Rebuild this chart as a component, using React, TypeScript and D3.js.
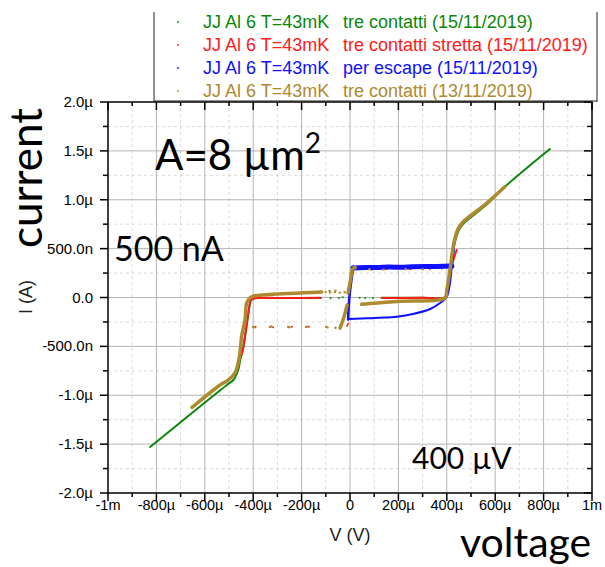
import React from "react";
import * as d3 from "d3";

// I–V curves of junction JJ Al 6 at T = 43 mK. Voltage in µV, current in nA.
type Pt = [number, number];

const xMajorTicks = [-1000, -800, -600, -400, -200, 0, 200, 400, 600, 800, 1000];
const xTickLabels = ["-1m", "-800µ", "-600µ", "-400µ", "-200µ", "0", "200µ", "400µ", "600µ", "800µ", "1m"];
const yMajorTicks = [-2000, -1500, -1000, -500, 0, 500, 1000, 1500, 2000];
const yTickLabels = ["-2.0µ", "-1.5µ", "-1.0µ", "-500.0n", "0.0", "500.0n", "1.0µ", "1.5µ", "2.0µ"];

const seriesNames = [
  ["JJ Al 6 T=43mK", "tre contatti (15/11/2019)"],
  ["JJ Al 6 T=43mK", "tre contatti stretta (15/11/2019)"],
  ["JJ Al 6 T=43mK", "per escape (15/11/2019)"],
  ["JJ Al 6 T=43mK", "tre contatti (13/11/2019)"],
];
const seriesColors = ["#0a870a", "#ff1a1a", "#1010ff", "#ad8a2e"];

// tre contatti (15/11/2019)
const greenNeg: Pt[] = [
  [-826, -1529], [-620, -1115], [-509, -895], [-482, -844], [-462, -742], [-452, -619],
  [-443, -537], [-434, -401], [-424, -230], [-416, -94], [-409, -26], [-393, -8],
  [-250, -6], [-120, -5],
];
const greenPos: Pt[] = [
  [130, -3], [300, -2], [393, 4], [402, 77], [411, 210], [422, 350], [428, 486],
  [436, 588], [450, 691], [470, 759], [560, 940], [640, 1133], [826, 1519],
];
const greenDots: Pt[] = [[-80, -8], [-45, -5], [-30, 2], [40, -3], [62, -6], [95, -4]];

// tre contatti stretta (15/11/2019)
const redNeg: Pt[] = [
  [-452, -619], [-443, -537], [-434, -401], [-424, -230], [-416, -94], [-411, -36],
  [-400, -8], [-388, -5], [-250, -5], [-124, -3],
];
const redPos: Pt[] = [
  [136, -6], [300, -3], [393, 2], [400, 59], [409, 179], [421, 332], [441, 486],
];
const redDots: Pt[] = [
  [-390, -300], [-318, -305], [-240, -298], [-170, -300], [-12, -290], [-8, -270],
  [90, 285], [150, 292], [250, 288], [330, 292], [380, 296],
];

// per escape (15/11/2019)
const blueRise: Pt[] = [[-8, -225], [-2, 20], [14, 315]];
const blueBand: Pt[] = [
  [12, 302], [60, 308], [110, 306], [160, 311], [210, 310], [260, 314], [310, 316],
  [360, 318], [421, 322],
];
const blueReturn: Pt[] = [
  [-8, -220], [41, -215], [124, -207], [193, -196], [260, -169], [331, -118],
  [372, -56], [400, 8], [413, 148], [421, 332], [430, 506],
];

// tre contatti (13/11/2019)
const brownNeg: Pt[] = [
  [-653, -1125], [-537, -895], [-503, -844], [-475, -772], [-457, -606], [-448, -401],
  [-434, -230], [-427, -59], [-417, -15], [-406, 8], [-388, 20], [-331, 31], [-117, 57],
];
const brownZeroLow: Pt[] = [[-41, -312], [-25, -200], [-12, -77]];
const brownZeroHigh: Pt[] = [[-8, 46], [2, 180], [12, 300], [22, 305]];
const brownPos: Pt[] = [
  [48, -70], [193, -41], [393, -2], [400, 77], [407, 179], [417, 353], [424, 486],
  [434, 609], [446, 701], [467, 772], [560, 955], [640, 1133],
];
const brownDots: Pt[] = [
  [-401, -300], [-395, -306], [-331, -302], [-325, -297], [-256, -300], [-250, -305],
  [-182, -302], [-176, -298], [-99, -300], [-93, -306], [-60, -310],
  [-100, 55], [-82, 52], [-62, 55], [-42, 50], [-22, 53], [-85, 68], [-60, 70],
  [80, 290], [140, 285], [230, 292], [300, 290],
];

const W = 605;
const H = 567;
const PL = 108, PR = 592, PT = 102, PB = 493;

export default function App() {
  const x = d3.scaleLinear().domain([-1000, 1000]).range([PL, PR]);
  const y = d3.scaleLinear().domain([-2000, 2000]).range([PB, PT]);
  const line = d3.line<Pt>().x((d) => x(d[0])).y((d) => y(d[1])).curve(d3.curveCatmullRom.alpha(0.5));

  const xMinor = d3.range(-900, 1000, 200);
  const yMinor = d3.range(-1750, 2000, 500);
  const font = "'Liberation Sans', Arial, sans-serif";
  const big = "Lato, 'Open Sans', sans-serif";

  const path = (d: Pt[], color: string, w: number) => (
    <path d={line(d) || ""} fill="none" stroke={color} strokeWidth={w}
      strokeLinejoin="round" strokeLinecap="round" />
  );
  const dots = (d: Pt[], color: string, r: number) =>
    d.map((p, i) => <circle key={i} cx={x(p[0])} cy={y(p[1])} r={r} fill={color} />);

  return (
    <svg width={W} height={H} style={{ position: "absolute", left: 0, top: 0, background: "#fff" }}>
      {/* grid */}
      {xMinor.map((v) => (
        <line key={"xm" + v} x1={x(v)} x2={x(v)} y1={PT} y2={PB} stroke="#d9d9d9" strokeDasharray="3,3" />
      ))}
      {yMinor.map((v) => (
        <line key={"ym" + v} x1={PL} x2={PR} y1={y(v)} y2={y(v)} stroke="#d9d9d9" strokeDasharray="3,3" />
      ))}
      {xMajorTicks.slice(1, -1).map((v) => (
        <line key={"xg" + v} x1={x(v)} x2={x(v)} y1={PT} y2={PB} stroke="#b4b4b4" />
      ))}
      {yMajorTicks.slice(1, -1).map((v) => (
        <line key={"yg" + v} x1={PL} x2={PR} y1={y(v)} y2={y(v)} stroke="#b4b4b4" />
      ))}

      {/* data */}
      {path(greenNeg, seriesColors[0], 2)}
      {path(greenPos, seriesColors[0], 2)}
      {dots(greenDots, seriesColors[0], 1)}
      {path(redNeg, seriesColors[1], 2)}
      {path(redPos, seriesColors[1], 2)}
      {dots(redDots, seriesColors[1], 1)}
      {path(blueRise, seriesColors[2], 2.5)}
      {path(blueBand, seriesColors[2], 5)}
      {path(blueReturn, seriesColors[2], 2)}
      {path(brownNeg, seriesColors[3], 3.5)}
      {path(brownZeroLow, seriesColors[3], 3.5)}
      {path(brownZeroHigh, seriesColors[3], 3.5)}
      {path(brownPos, seriesColors[3], 3.5)}
      {dots(brownDots, seriesColors[3], 1.2)}

      {/* frame */}
      <rect x={PL} y={PT} width={PR - PL} height={PB - PT} fill="none" stroke="#000" strokeWidth={1.5} />
      {xMajorTicks.map((v) => (
        <g key={"xt" + v}>
          <line x1={x(v)} x2={x(v)} y1={PB} y2={PB + 8} stroke="#000" strokeWidth={1.5} />
          <line x1={x(v)} x2={x(v)} y1={PT} y2={PT + 8} stroke="#000" strokeWidth={1.5} />
        </g>
      ))}
      {xMinor.map((v) => (
        <g key={"xn" + v}>
          <line x1={x(v)} x2={x(v)} y1={PB} y2={PB + 4} stroke="#000" strokeWidth={1.5} />
          <line x1={x(v)} x2={x(v)} y1={PT} y2={PT + 4} stroke="#000" strokeWidth={1.5} />
        </g>
      ))}
      {yMajorTicks.map((v) => (
        <g key={"yt" + v}>
          <line x1={PL - 8} x2={PL} y1={y(v)} y2={y(v)} stroke="#000" strokeWidth={1.5} />
          <line x1={PR - 8} x2={PR} y1={y(v)} y2={y(v)} stroke="#000" strokeWidth={1.5} />
        </g>
      ))}
      {yMinor.map((v) => (
        <g key={"yn" + v}>
          <line x1={PL - 5} x2={PL} y1={y(v)} y2={y(v)} stroke="#000" strokeWidth={1.5} />
          <line x1={PR - 5} x2={PR} y1={y(v)} y2={y(v)} stroke="#000" strokeWidth={1.5} />
        </g>
      ))}

      {/* tick labels */}
      {xMajorTicks.map((v, i) => (
        <text key={"xl" + v} x={x(v)} y={510} textAnchor="middle" fontFamily={font} fontSize={14.5} fill="#000">
          {xTickLabels[i]}
        </text>
      ))}
      {yMajorTicks.map((v, i) => (
        <text key={"yl" + v} x={93} y={y(v) + 5} textAnchor="end" fontFamily={font} fontSize={15} fill="#000">
          {yTickLabels[i]}
        </text>
      ))}

      {/* axis titles */}
      <text x={350} y={541} textAnchor="middle" fontFamily={font} fontSize={18} fill="#222">V (V)</text>
      <text transform="translate(32,297) rotate(-90)" textAnchor="middle" fontFamily={font} fontSize={18} fill="#222">I (A)</text>

      {/* legend */}
      <path d={`M154,12 V${PT} M597,12 V${PT} M154,${PT - 1} H597`} fill="none" stroke="#222" strokeWidth={1} />
      {seriesNames.map((n, i) => (
        <g key={"lg" + i}>
          <circle cx={178} cy={22 + i * 23} r={0.9} fill={seriesColors[i]} />
          <text x={203} y={28 + i * 23} fontFamily={font} fontSize={18} fill={seriesColors[i]}>{n[0]}</text>
          <text x={343} y={28 + i * 23} fontFamily={font} fontSize={18} fill={seriesColors[i]}>{n[1]}</text>
        </g>
      ))}

      {/* annotations */}
      <text x={155} y={170} fontFamily={big} fontSize={42} fill="#000">
        A=8 µm<tspan dy={-17} fontSize={28}>2</tspan>
      </text>
      <text x={114} y={261} fontFamily={big} fontSize={34} fill="#000">500 nA</text>
      <text x={412} y={469} fontFamily={big} fontSize={30} fill="#000">400 µV</text>
      <text x={460} y={557} fontFamily={big} fontSize={41} fill="#000">voltage</text>
      <text transform="translate(42,248) rotate(-90)" fontFamily={big} fontSize={44} fill="#000">current</text>
    </svg>
  );
}
